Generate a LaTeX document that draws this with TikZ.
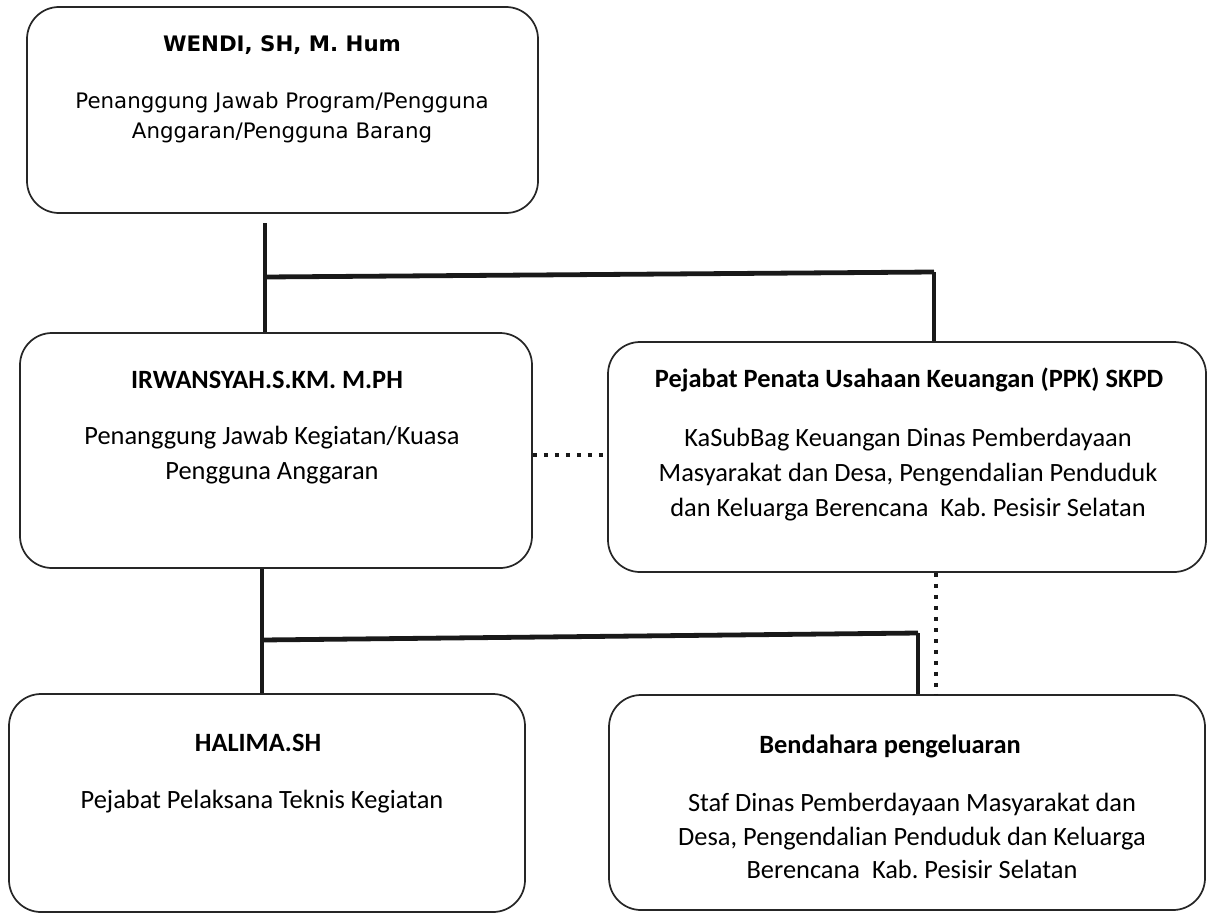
\documentclass[tikz,border=0pt]{standalone}
\usepackage{fontspec}
\setmainfont{Carlito}
\newfontfamily\tahomafont{DejaVu Sans}
\frenchspacing
\begin{document}
\begin{tikzpicture}[x=0.75pt,y=-0.75pt,
  box/.style={draw=black!85, line width=1.3pt, rounded corners=24pt, inner sep=0pt},
  ttl/.style={font=\fontsize{19.8}{26.5}\selectfont\bfseries, inner sep=0pt},
  body/.style={font=\fontsize{19.8}{26.5}\selectfont, align=center, inner sep=0pt},
  ttlA/.style={font=\tahomafont\fontsize{16}{22.5}\selectfont\bfseries, inner sep=0pt},
  bodyA/.style={font=\tahomafont\fontsize{16}{22.5}\selectfont, align=center, inner sep=0pt},
  conn/.style={line width=2.3pt, black!90},
  hconn/.style={line width=3.6pt, black!90},
  dotconn/.style={line width=3pt, black!90, dash pattern=on 3pt off 5.25pt}
]
\useasboundingbox (0,0) rectangle (1210,914);

% boxes
\node[box, minimum width=383.25pt, minimum height=154.5pt] (b1) at (282.5,110) {};
\node[box, minimum width=384pt, minimum height=176.25pt] (b2) at (276,450.5) {};
\node[box, minimum width=448.5pt, minimum height=172.5pt] (b3) at (907,457) {};
\node[box, minimum width=387pt, minimum height=163.5pt] (b4) at (267,803) {};
\node[box, minimum width=447pt, minimum height=161.25pt] (b5) at (907,802.5) {};

% texts
\node[ttlA] (t1) at (282,45) {WENDI, SH, M. Hum};
\node[bodyA] (d1) at (282,118) {Penanggung Jawab Program/Pengguna\\Anggaran/Pengguna Barang};

\node[ttl] (t2) at (267,380) {IRWANSYAH.S.KM. M.PH};
\node[body] (d2) at (272,455) {Penanggung Jawab Kegiatan/Kuasa\\Pengguna Anggaran};

\node[ttl] (t3) at (909,380) {Pejabat Penata Usahaan Keuangan (PPK) SKPD};
\node[body, font=\fontsize{19.8}{26.3}\selectfont] (d3) at (908,475) {KaSubBag Keuangan Dinas Pemberdayaan\\Masyarakat dan Desa, Pengendalian Penduduk\\dan Keluarga Berencana\ \ Kab. Pesisir Selatan};

\node[ttl] (t4) at (258,743) {HALIMA.SH};
\node[body] (d4) at (262,802) {Pejabat Pelaksana Teknis Kegiatan};

\node[ttl] (t5) at (890,746) {Bendahara pengeluaran};
\node[body, font=\fontsize{19.8}{25}\selectfont] (d5) at (912,836) {Staf Dinas Pemberdayaan Masyarakat dan\\Desa, Pengendalian Penduduk dan Keluarga\\Berencana\ \ Kab. Pesisir Selatan};

% connectors
\coordinate (j1) at (265,277);
\coordinate (k1) at (934,272);
\draw[conn] ([yshift=-7]b1.south -| j1) -- (b2.north -| j1);
\draw[hconn] (j1) -- (k1);
\draw[conn] (k1) -- (b3.north -| k1);

\coordinate (j2) at (262,640);
\coordinate (k2) at (918,633);
\draw[conn] (b2.south -| j2) -- (b4.north -| j2);
\draw[hconn] (j2) -- (k2);
\draw[conn] (k2) -- (b5.north -| k2);

\coordinate (p1) at (0,455);
\draw[dotconn] (b2.east |- p1) -- (b3.west |- p1);
\coordinate (p2) at (936,0);
\draw[dotconn] (b3.south -| p2) -- (b5.north -| p2);
\end{tikzpicture}
\end{document}
